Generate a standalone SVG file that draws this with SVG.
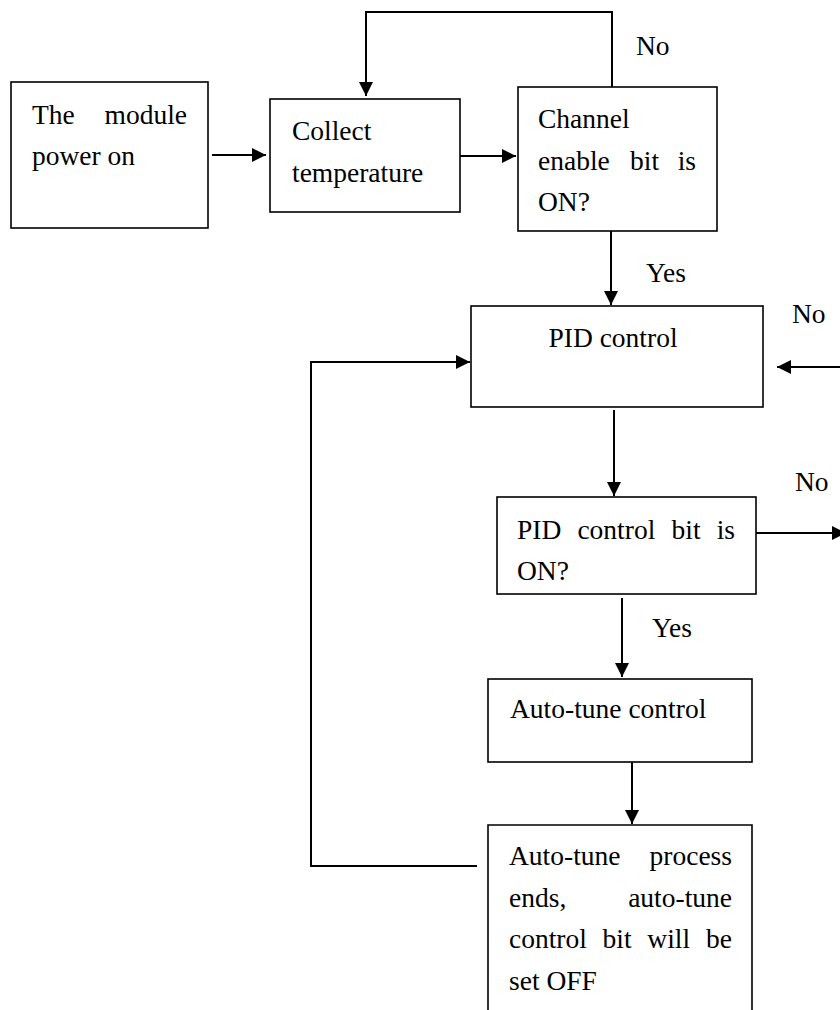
<svg xmlns="http://www.w3.org/2000/svg" width="840" height="1010" viewBox="0 0 840 1010">
<defs>
<style>
.box{fill:#fff;stroke:#000;stroke-width:1.6}
.open{fill:none;stroke:#000;stroke-width:1.6}
.c{fill:none;stroke:#000;stroke-width:2}
.t{font-family:"Liberation Serif","Times New Roman",serif;font-size:27.5px;fill:#000}
.e{text-anchor:end}
.m{text-anchor:middle}
</style>
<marker id="ah" markerUnits="userSpaceOnUse" markerWidth="15" markerHeight="14" refX="14" refY="7" orient="auto">
<path d="M0,0 L14,7 L0,14 z" fill="#000"/>
</marker>
</defs>
<rect width="840" height="1010" fill="#fff"/>

<g id="connectors">
<line class="c" x1="212" y1="155" x2="266" y2="155" marker-end="url(#ah)"/>
<line class="c" x1="460" y1="156" x2="516" y2="156" marker-end="url(#ah)"/>
<path class="c" d="M612,87 V12 H366 V96" marker-end="url(#ah)"/>
<line class="c" x1="611" y1="231" x2="611" y2="305" marker-end="url(#ah)"/>
<line class="c" x1="614" y1="410" x2="614" y2="496" marker-end="url(#ah)"/>
<line class="c" x1="622" y1="598" x2="622" y2="677" marker-end="url(#ah)"/>
<line class="c" x1="632" y1="762" x2="632" y2="824" marker-end="url(#ah)"/>
<path class="c" d="M477,866 H311 V362 H470" marker-end="url(#ah)"/>
<line class="c" x1="753" y1="533" x2="846" y2="533" marker-end="url(#ah)"/>
<line class="c" x1="840" y1="367" x2="777" y2="367" marker-end="url(#ah)"/>
<text class="t" x="636" y="55">No</text>
<text class="t" x="646" y="282">Yes</text>
<text class="t" x="792" y="323">No</text>
<text class="t" x="795" y="491">No</text>
<text class="t" x="652" y="637">Yes</text>
</g>

<g id="power-on">
<rect class="box" x="11" y="82" width="197" height="146"/>
<text class="t" x="32" y="124">The</text>
<text class="t e" x="187" y="124">module</text>
<text class="t" x="32" y="165">power on</text>
</g>

<g id="collect">
<rect class="box" x="270" y="99" width="190" height="113"/>
<text class="t" x="292" y="140">Collect</text>
<text class="t" x="292" y="182">temperature</text>
</g>

<g id="channel-enable">
<rect class="box" x="518" y="87" width="199" height="144"/>
<text class="t" x="538" y="128">Channel</text>
<text class="t" x="538" y="170">enable</text>
<text class="t" x="630" y="170">bit</text>
<text class="t e" x="696" y="170">is</text>
<text class="t" x="538" y="211">ON?</text>
</g>

<g id="pid-control">
<rect class="box" x="471" y="306" width="292" height="101"/>
<text class="t m" x="613" y="347">PID control</text>
</g>

<g id="pid-bit">
<rect class="box" x="497" y="497" width="259" height="97"/>
<text class="t" x="517" y="539">PID</text>
<text class="t" x="577.4" y="539">control</text>
<text class="t" x="671.5" y="539">bit</text>
<text class="t e" x="735" y="539">is</text>
<text class="t" x="517" y="580">ON?</text>
</g>

<g id="auto-tune">
<rect class="box" x="488" y="679" width="264" height="83"/>
<text class="t" x="510" y="718">Auto-tune control</text>
</g>

<g id="auto-tune-end">
<path class="open" d="M488,1012 V825 H752 V1012"/>
<text class="t" x="509" y="865">Auto-tune</text>
<text class="t e" x="732" y="865">process</text>
<text class="t" x="509" y="906.5">ends,</text>
<text class="t e" x="732" y="906.5">auto-tune</text>
<text class="t" x="509" y="948">control</text>
<text class="t" x="602.6" y="948">bit</text>
<text class="t" x="647.3" y="948">will</text>
<text class="t e" x="732" y="948">be</text>
<text class="t" x="509" y="989.5">set OFF</text>
</g>
</svg>
